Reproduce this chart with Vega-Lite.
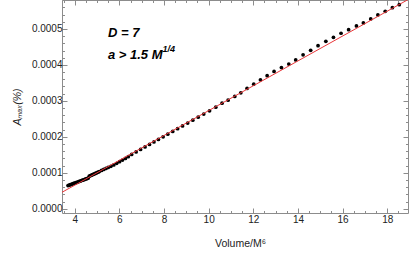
{
  "$schema": "https://vega.github.io/schema/vega-lite/v6.json",
  "width": 346,
  "height": 213,
  "autosize": {"type": "none"},
  "padding": {"left": 62, "top": 0, "right": 1, "bottom": 45},
  "background": "white",
  "config": {"view": {"stroke": "#8c8c8c", "strokeWidth": 1}, "font": "Liberation Sans"},
  "datasets": {
    "pts": [
      {"v": 3.70, "a": 0.0000645}, {"v": 3.75, "a": 0.0000656}, {"v": 3.80, "a": 0.0000668}, {"v": 3.85, "a": 0.0000680},
      {"v": 3.90, "a": 0.0000690}, {"v": 3.95, "a": 0.0000702}, {"v": 4.00, "a": 0.0000713}, {"v": 4.05, "a": 0.0000725},
      {"v": 4.10, "a": 0.0000736}, {"v": 4.15, "a": 0.0000748}, {"v": 4.20, "a": 0.0000759}, {"v": 4.25, "a": 0.0000770},
      {"v": 4.30, "a": 0.0000782}, {"v": 4.35, "a": 0.0000793}, {"v": 4.40, "a": 0.0000804}, {"v": 4.45, "a": 0.0000815},
      {"v": 4.50, "a": 0.0000827}, {"v": 4.55, "a": 0.0000838}, {"v": 4.60, "a": 0.0000850}, {"v": 4.65, "a": 0.0000905},
      {"v": 4.70, "a": 0.0000918}, {"v": 4.75, "a": 0.0000932}, {"v": 4.80, "a": 0.0000946}, {"v": 4.85, "a": 0.0000960},
      {"v": 4.90, "a": 0.0000975}, {"v": 4.95, "a": 0.0000990}, {"v": 5.00, "a": 0.0001005}, {"v": 5.05, "a": 0.0001020},
      {"v": 5.10, "a": 0.0001035}, {"v": 5.20, "a": 0.0001065}, {"v": 5.30, "a": 0.0001093}, {"v": 5.40, "a": 0.0001122},
      {"v": 5.50, "a": 0.0001150}, {"v": 5.62, "a": 0.0001180}, {"v": 5.75, "a": 0.0001218}, {"v": 5.88, "a": 0.0001262},
      {"v": 6.01, "a": 0.0001308}, {"v": 6.14, "a": 0.0001352}, {"v": 6.27, "a": 0.0001398}, {"v": 6.40, "a": 0.0001448},
      {"v": 6.55, "a": 0.0001511}, {"v": 6.75, "a": 0.0001581}, {"v": 6.95, "a": 0.0001650}, {"v": 7.15, "a": 0.0001720},
      {"v": 7.35, "a": 0.0001789}, {"v": 7.55, "a": 0.0001859}, {"v": 7.75, "a": 0.0001928}, {"v": 7.96, "a": 0.0002001},
      {"v": 8.17, "a": 0.0002074}, {"v": 8.39, "a": 0.0002150}, {"v": 8.61, "a": 0.0002227}, {"v": 8.83, "a": 0.0002303},
      {"v": 9.06, "a": 0.0002383}, {"v": 9.29, "a": 0.0002463}, {"v": 9.53, "a": 0.0002547}, {"v": 9.78, "a": 0.0002633},
      {"v": 10.04, "a": 0.0002724}, {"v": 10.32, "a": 0.0002825}, {"v": 10.60, "a": 0.0002936}, {"v": 10.87, "a": 0.0003020},
      {"v": 11.17, "a": 0.0003125}, {"v": 11.44, "a": 0.0003225}, {"v": 11.72, "a": 0.0003345}, {"v": 12.02, "a": 0.0003465},
      {"v": 12.32, "a": 0.0003585}, {"v": 12.62, "a": 0.0003700}, {"v": 12.93, "a": 0.0003820}, {"v": 13.26, "a": 0.0003925},
      {"v": 13.59, "a": 0.0004025}, {"v": 13.90, "a": 0.0004139}, {"v": 14.23, "a": 0.0004282}, {"v": 14.57, "a": 0.0004408},
      {"v": 14.90, "a": 0.0004536}, {"v": 15.25, "a": 0.0004658}, {"v": 15.59, "a": 0.0004769}, {"v": 15.93, "a": 0.0004881},
      {"v": 16.27, "a": 0.0004981}, {"v": 16.62, "a": 0.0005083}, {"v": 16.93, "a": 0.0005167}, {"v": 17.26, "a": 0.0005278},
      {"v": 17.58, "a": 0.0005389}, {"v": 17.91, "a": 0.0005492}, {"v": 18.23, "a": 0.0005592}, {"v": 18.54, "a": 0.0005675}
    ],
    "fit": [{"v": 3.43, "a": 0.0000457}, {"v": 18.91, "a": 0.000581}],
    "lab1": [{"v": 5.49, "a": 0.000477, "t": "D = 7"}, {"v": 5.49, "a": 0.000417, "t": "a > 1.5 M"}],
    "lab2": [{"v": 7.93, "a": 0.000436, "t": "1/4"}]
  },
  "layer": [
    {
      "data": {"name": "pts"},
      "mark": {"type": "circle", "color": "black", "size": 14, "opacity": 1},
      "encoding": {
        "x": {"field": "v", "type": "quantitative",
          "scale": {"domain": [3.43, 18.93], "nice": false, "zero": false},
          "axis": {"orient": "bottom", "values": [3.5,4,4.5,5,5.5,6,6.5,7,7.5,8,8.5,9,9.5,10,10.5,11,11.5,12,12.5,13,13.5,14,14.5,15,15.5,16,16.5,17,17.5,18,18.5],
            "tickSize": {"condition": {"test": "datum.value % 2 == 0", "value": -5}, "value": -2.5},
            "labelExpr": "datum.value % 2 == 0 ? format(datum.value, 'd') : ''",
            "domain": false, "grid": false, "tickColor": "#8c8c8c", "labelColor": "#222", "labelFontSize": 10,
            "labelPadding": 6, "labelOverlap": false, "labelFlush": false, "labelBound": false,
            "title": "Volume/M⁶", "titleFontSize": 10.5, "titleFontWeight": "normal", "titleColor": "#222", "titlePadding": 12, "titleX": 178}},
        "y": {"field": "a", "type": "quantitative",
          "scale": {"domain": [-0.0000119, 0.0005806], "nice": false, "zero": false},
          "axis": {"orient": "left", "values": [0,0.00002,0.00004,0.00006,0.00008,0.0001,0.00012,0.00014,0.00016,0.00018,0.0002,0.00022,0.00024,0.00026,0.00028,0.0003,0.00032,0.00034,0.00036,0.00038,0.0004,0.00042,0.00044,0.00046,0.00048,0.0005,0.00052,0.00054,0.00056,0.00058],
            "tickSize": {"condition": {"test": "abs(datum.value*10000 - round(datum.value*10000)) < 0.001", "value": -5}, "value": -2.5},
            "labelExpr": "abs(datum.value*10000 - round(datum.value*10000)) < 0.001 ? format(datum.value, '.4f') : ''",
            "domain": false, "grid": false, "tickColor": "#8c8c8c", "labelColor": "#222", "labelFontSize": 10,
            "labelPadding": 5, "labelOverlap": false, "labelFlush": false, "labelBound": false,
            "title": "Aₘₐₓ(%)", "titleFontSize": 10.5, "titleFontWeight": "normal", "titleFontStyle": "italic", "titleColor": "#222", "titlePadding": 9}}
      }
    },
    {
      "data": {"name": "fit"},
      "mark": {"type": "line", "color": "#e8373a", "strokeWidth": 1, "clip": true},
      "encoding": {
        "x": {"field": "v", "type": "quantitative",
          "axis": {"orient": "top", "values": [3.5,4,4.5,5,5.5,6,6.5,7,7.5,8,8.5,9,9.5,10,10.5,11,11.5,12,12.5,13,13.5,14,14.5,15,15.5,16,16.5,17,17.5,18,18.5],
            "tickSize": {"condition": {"test": "datum.value % 2 == 0", "value": -5}, "value": -2.5},
            "labels": false, "domain": false, "grid": false, "tickColor": "#8c8c8c", "title": null}},
        "y": {"field": "a", "type": "quantitative",
          "axis": {"orient": "right", "values": [0,0.00002,0.00004,0.00006,0.00008,0.0001,0.00012,0.00014,0.00016,0.00018,0.0002,0.00022,0.00024,0.00026,0.00028,0.0003,0.00032,0.00034,0.00036,0.00038,0.0004,0.00042,0.00044,0.00046,0.00048,0.0005,0.00052,0.00054,0.00056,0.00058],
            "tickSize": {"condition": {"test": "abs(datum.value*10000 - round(datum.value*10000)) < 0.001", "value": -5}, "value": -2.5},
            "labels": false, "domain": false, "grid": false, "tickColor": "#8c8c8c", "title": null}}
      }
    },
    {
      "data": {"name": "lab1"},
      "mark": {"type": "text", "align": "left", "baseline": "alphabetic", "fontSize": 13, "fontWeight": "bold", "fontStyle": "italic", "color": "black"},
      "encoding": {
        "x": {"field": "v", "type": "quantitative", "axis": null},
        "y": {"field": "a", "type": "quantitative", "axis": null},
        "text": {"field": "t"}
      }
    },
    {
      "data": {"name": "lab2"},
      "mark": {"type": "text", "align": "left", "baseline": "alphabetic", "fontSize": 9, "fontWeight": "bold", "fontStyle": "italic", "color": "black"},
      "encoding": {
        "x": {"field": "v", "type": "quantitative", "axis": null},
        "y": {"field": "a", "type": "quantitative", "axis": null},
        "text": {"field": "t"}
      }
    }
  ],
  "resolve": {"axis": {"x": "independent", "y": "independent"}}
}
